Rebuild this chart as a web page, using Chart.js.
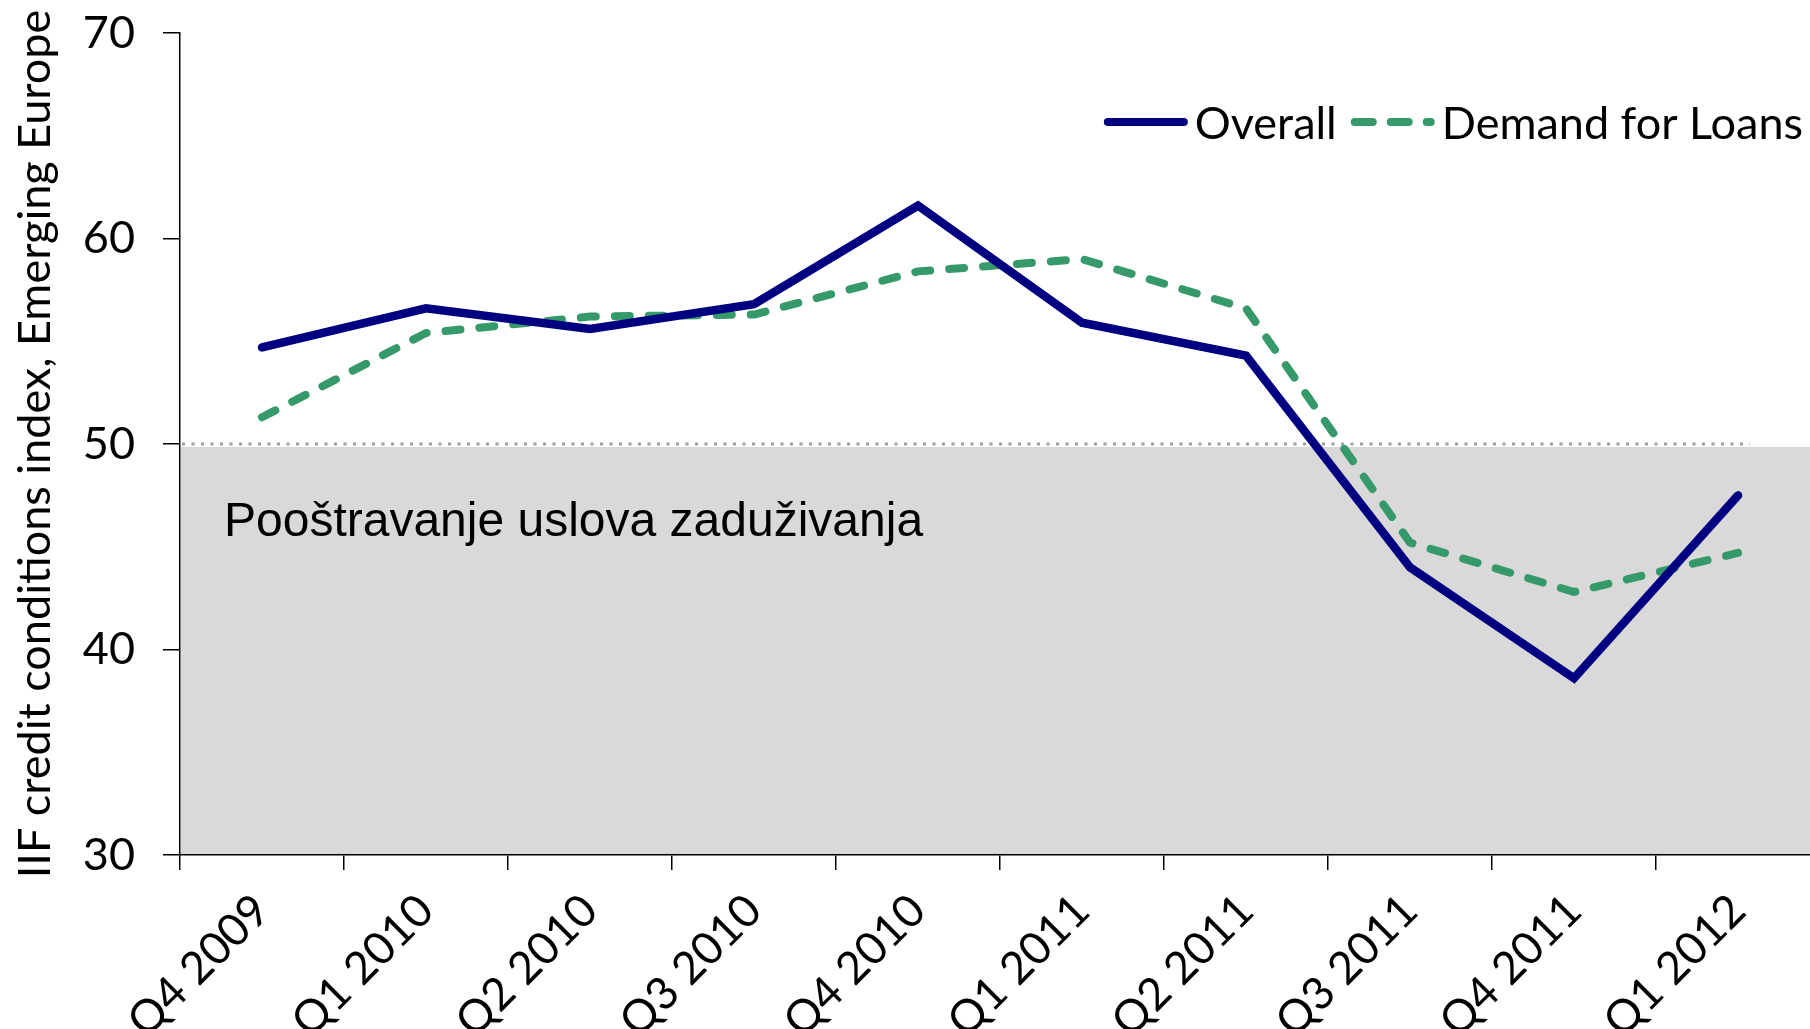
<!DOCTYPE html>
<html>
<head>
<meta charset="utf-8">
<script src="https://cdn.jsdelivr.net/npm/chart.js@4.4.1/dist/chart.umd.min.js"></script>
<style>
  html, body { margin: 0; padding: 0; background: #fff; overflow: hidden; }
  #wrap { width: 1830px; height: 1029px; }
</style>
</head>
<body>
<div id="wrap"><canvas id="c" width="1830" height="1029"></canvas></div>
<script>
const categories = ["Q4 2009","Q1 2010","Q2 2010","Q3 2010","Q4 2010","Q1 2011","Q2 2011","Q3 2011","Q4 2011","Q1 2012"];
const overall = [54.7, 56.6, 55.6, 56.8, 61.6, 55.9, 54.3, 44.0, 38.6, 47.5];
const demandForLoans = [51.3, 55.4, 56.2, 56.3, 58.4, 59.0, 56.6, 45.2, 42.8, 44.7];
const seriesNames = ["Overall", "Demand for Loans"];
const yTicks = [30, 40, 50, 60, 70];
const yTitle = "IIF credit conditions index, Emerging Europe";
const zoneLabel = "Pooštravanje uslova zaduživanja";
const threshold = 50;

const FONT = "Lato";
const FS = 45;

const zonePlugin = {
  id: 'zone',
  beforeDraw(chart) {
    const ctx = chart.ctx, a = chart.chartArea;
    const y = chart.scales.y, x = chart.scales.x;
    const top = y.getPixelForValue(threshold) + 3;
    const bottom = y.getPixelForValue(yTicks[0]);
    ctx.save();
    ctx.fillStyle = '#d9d9d9';
    ctx.fillRect(a.left + 1, top, chart.width - a.left, bottom - top);
    ctx.strokeStyle = '#a0a0a0';
    ctx.lineWidth = 3;
    ctx.setLineDash([3, 6.5]);
    const yy = y.getPixelForValue(threshold);
    ctx.beginPath();
    ctx.moveTo(a.left + 2, yy);
    ctx.lineTo(x.getPixelForValue(categories.length - 1) + 12, yy);
    ctx.stroke();
    ctx.setLineDash([]);
    ctx.fillStyle = '#000';
    ctx.font = '48px "Liberation Sans", Arial, sans-serif';
    ctx.textAlign = 'left';
    ctx.textBaseline = 'alphabetic';
    ctx.fillText(zoneLabel, a.left + 44, y.getPixelForValue(threshold) + 92);
    ctx.restore();
  }
};

const legendPlugin = {
  id: 'customLegend',
  afterDraw(chart) {
    const ctx = chart.ctx;
    ctx.save();
    ctx.font = FS + 'px ' + FONT;
    ctx.textBaseline = 'middle';
    ctx.textAlign = 'left';
    const yc = 122;
    const sample = 84, gapT = 7, gapS = 14;
    const ds = chart.data.datasets;
    let total = 0;
    ds.forEach((d, i) => { total += sample + gapT + ctx.measureText(d.label).width + (i < ds.length - 1 ? gapS : 0); });
    let x = 1803 - total;
    ds.forEach((d, i) => {
      ctx.strokeStyle = d.borderColor;
      ctx.lineWidth = 8;
      ctx.lineCap = 'round';
      ctx.setLineDash(d.borderDash ? [18, 18] : []);
      ctx.beginPath();
      ctx.moveTo(x + 4, yc);
      ctx.lineTo(x + sample - 4, yc);
      ctx.stroke();
      ctx.setLineDash([]);
      x += sample + gapT;
      ctx.fillStyle = '#000';
      ctx.fillText(d.label, x, yc + 2);
      x += ctx.measureText(d.label).width + gapS;
    });
    ctx.restore();
  }
};

new Chart(document.getElementById('c'), {
  type: 'line',
  data: {
    labels: categories,
    datasets: [
      { label: seriesNames[0], data: overall, borderColor: '#000080', backgroundColor: '#000080',
        borderWidth: 8.5, pointRadius: 0, tension: 0, borderCapStyle: 'round', borderJoinStyle: 'miter' },
      { label: seriesNames[1], data: demandForLoans, borderColor: '#35996a', backgroundColor: '#35996a',
        borderWidth: 8, borderDash: [15, 19], pointRadius: 0, tension: 0, borderCapStyle: 'round', borderJoinStyle: 'round' }
    ]
  },
  options: {
    responsive: false,
    animation: false,
    events: [],
    layout: { autoPadding: false, padding: { top: 33, right: 10, left: 0, bottom: 0 } },
    plugins: { legend: { display: false }, tooltip: { enabled: false } },
    scales: {
      x: {
        type: 'category',
        offset: true,
        afterFit(s) { s.height = 174; },
        grid: { display: true, offset: true, drawOnChartArea: false, drawTicks: true, tickLength: 15, color: '#000', lineWidth: 1.5 },
        border: { display: true, color: '#000', width: 1.5 },
        ticks: { minRotation: 45, maxRotation: 45, autoSkip: false, padding: 14, color: '#000', font: { family: FONT, size: FS } }
      },
      y: {
        min: yTicks[0], max: yTicks[yTicks.length - 1],
        afterFit(s) { s.width = 180; s.paddingTop = 0; s.paddingBottom = 0; },
        afterBuildTicks(s) { s.ticks = yTicks.map(v => ({ value: v })); },
        grid: { display: true, drawOnChartArea: false, drawTicks: true, tickLength: 17, color: '#000', lineWidth: 1.5 },
        border: { display: true, color: '#000', width: 1.5 },
        ticks: { padding: 28, color: '#000', font: { family: FONT, size: FS } },
        title: { display: true, text: yTitle, color: '#000', font: { family: FONT, size: FS }, padding: { top: 8, bottom: 0 } }
      }
    }
  },
  plugins: [zonePlugin, legendPlugin]
});
</script>
</body>
</html>
